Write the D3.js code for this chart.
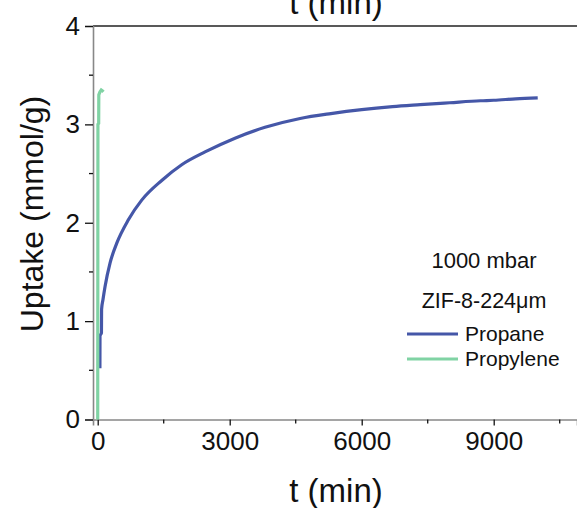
<!DOCTYPE html>
<html>
<head>
<meta charset="utf-8">
<script src="https://cdn.jsdelivr.net/npm/d3@7"></script>
<style>
  body { margin: 0; background: white; }
  text { font-family: "Liberation Sans", Arial, sans-serif; fill: #111; }
</style>
</head>
<body>
<div id="chart"></div>
<script>
// propane uptake (time in min, uptake in mmol/g)
const propaneTime = [50, 52, 85, 88, 120, 166, 280, 431, 697, 1000, 1455, 1909, 2439, 3120, 3802, 4600, 5300, 6000, 6700, 7330, 8000, 8700, 9000, 9500, 10000];
const propaneUptake = [0.52, 0.85, 0.88, 1.12, 1.22, 1.35, 1.59, 1.79, 2.03, 2.23, 2.43, 2.59, 2.72, 2.86, 2.97, 3.06, 3.11, 3.15, 3.18, 3.20, 3.22, 3.24, 3.245, 3.26, 3.27];

// propylene uptake
const propyleneTime = [0, 5, 22, 25, 50, 80, 110, 130];
const propyleneUptake = [0, 3.0, 3.01, 3.3, 3.33, 3.35, 3.34, 3.33];

const xTicks = [0, 3000, 6000, 9000];
const xMinor = [1500, 4500, 7500, 10500];
const yTicks = [0, 1, 2, 3, 4];
const yMinor = [0.5, 1.5, 2.5, 3.5];

const legendNotes = ["1000 mbar", "ZIF-8-224\u03bcm"];
const seriesNames = ["Propane", "Propylene"];
const seriesColors = ["#4557a8", "#80d3a4"];

var width = 577, height = 508;

var svg = d3.select("#chart")
    .append("svg")
    .attr("width", width)
    .attr("height", height);

const x = d3.scaleLinear().domain([-107, 10893]).range([93, 577]);
const y = d3.scaleLinear().domain([0, 4]).range([419.5, 26]);

// top frame line
svg.append("line")
    .attr("x1", x.range()[0]).attr("x2", x.range()[1])
    .attr("y1", y(4)).attr("y2", y(4))
    .style("stroke", "#222")
    .style("stroke-width", 1.6);

// x axis
const xAxis = svg.append("g")
    .attr("transform", `translate(0, ${y(0)})`)
    .call(d3.axisBottom(x).tickValues(xTicks).tickSize(6).tickPadding(6).tickFormat(d3.format("d")));
xAxis.select(".domain").style("stroke", "#888").style("stroke-width", 1.6);
xAxis.selectAll(".tick line").style("stroke", "#111").style("stroke-width", 1.3);
xAxis.selectAll(".tick text").style("font-size", "26px").style("font-family", "Liberation Sans, Arial, sans-serif").style("fill", "#111");

svg.append("g")
    .selectAll("line")
    .data(xMinor)
    .enter()
    .append("line")
    .attr("x1", d => x(d)).attr("x2", d => x(d))
    .attr("y1", y(0)).attr("y2", y(0) + 4)
    .style("stroke", "#111")
    .style("stroke-width", 1.3);

// y axis
const yAxis = svg.append("g")
    .attr("transform", `translate(${x.range()[0]}, 0)`)
    .call(d3.axisLeft(y).tickValues(yTicks).tickSize(8).tickPadding(5).tickFormat(d3.format("d")));
yAxis.select(".domain").style("stroke", "#888").style("stroke-width", 1.6);
yAxis.selectAll(".tick line").style("stroke", "#111").style("stroke-width", 1.3);
yAxis.selectAll(".tick text").style("font-size", "26px").style("font-family", "Liberation Sans, Arial, sans-serif").style("fill", "#111");

svg.append("g")
    .selectAll("line")
    .data(yMinor)
    .enter()
    .append("line")
    .attr("x1", x.range()[0] - 4).attr("x2", x.range()[0])
    .attr("y1", d => y(d)).attr("y2", d => y(d))
    .style("stroke", "#111")
    .style("stroke-width", 1.3);

// axis titles (the top one is cut off like in the source figure)
svg.append("text")
    .text("t (min)")
    .attr("x", 336)
    .attr("y", 14)
    .style("font-size", "33px")
    .style("text-anchor", "middle");

svg.append("text")
    .text("t (min)")
    .attr("x", 336)
    .attr("y", 502)
    .style("font-size", "33px")
    .style("text-anchor", "middle");

svg.append("text")
    .text("Uptake (mmol/g)")
    .attr("transform", "translate(43, 214) rotate(-90)")
    .style("font-size", "32px")
    .style("text-anchor", "middle");

// curves
const propane = propaneTime.map((t, i) => [t, propaneUptake[i]]);
const propylene = propyleneTime.map((t, i) => [t, propyleneUptake[i]]);

svg.append("path")
    .datum(propane)
    .attr("d", d3.line().x(d => x(d[0])).y(d => y(d[1])).curve(d3.curveMonotoneX))
    .style("fill", "none")
    .style("stroke", seriesColors[0])
    .style("stroke-width", 3.2);

svg.append("path")
    .datum(propylene)
    .attr("d", d3.line().x(d => x(d[0])).y(d => y(d[1])))
    .style("fill", "none")
    .style("stroke", seriesColors[1])
    .style("stroke-width", 3.2);

// legend
const legend = svg.append("g");

legend.selectAll(".note")
    .data(legendNotes)
    .enter()
    .append("text")
    .attr("class", "note")
    .text(d => d)
    .attr("x", 484)
    .attr("y", (d, i) => 268 + i * 40)
    .style("font-size", (d, i) => i == 0 ? "22px" : "21.5px")
    .style("text-anchor", "middle");

legend.selectAll(".key")
    .data(seriesNames)
    .enter()
    .append("line")
    .attr("class", "key")
    .attr("x1", 407).attr("x2", 458)
    .attr("y1", (d, i) => 334 + i * 25)
    .attr("y2", (d, i) => 334 + i * 25)
    .style("stroke", (d, i) => seriesColors[i])
    .style("stroke-width", 3.2);

legend.selectAll(".name")
    .data(seriesNames)
    .enter()
    .append("text")
    .attr("class", "name")
    .text(d => d)
    .attr("x", 465)
    .attr("y", (d, i) => 341 + i * 25)
    .style("font-size", "21px");
</script>
</body>
</html>
